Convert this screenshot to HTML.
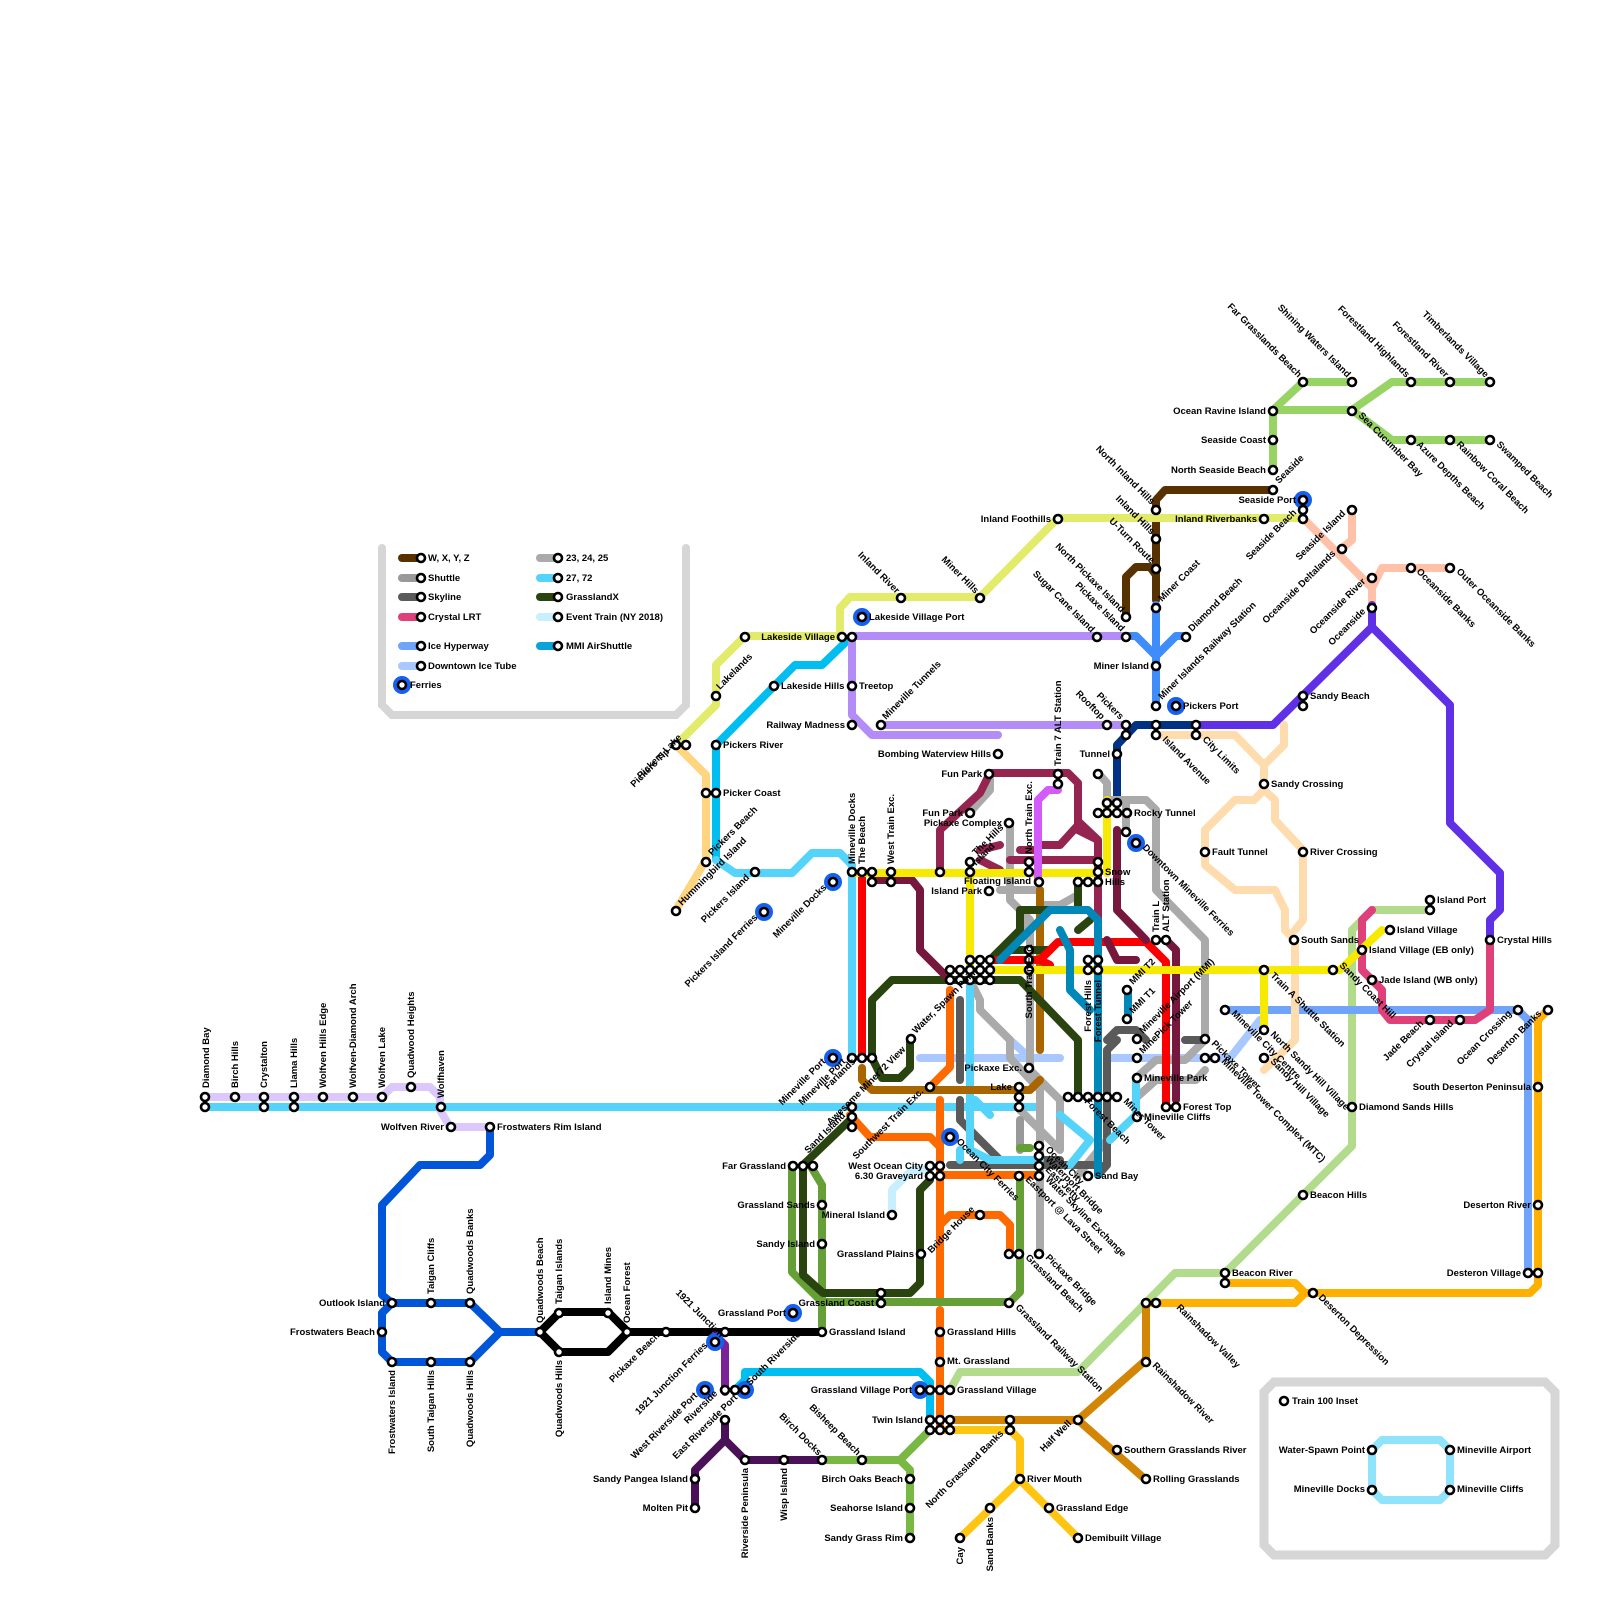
<!DOCTYPE html>
<html><head><meta charset="utf-8"><style>
html,body{margin:0;padding:0;background:#fff;width:100%;height:100%;overflow:hidden}
svg{display:block;overflow:hidden;width:100vw;height:100vh}
text{font-family:"Liberation Sans",sans-serif;font-weight:bold;font-size:9.5px;fill:#000}
.l{fill:none;stroke-linecap:round;stroke-linejoin:round;stroke-width:8}
.s{fill:#fff;stroke:#000;stroke-width:2.6}
.f{fill:#1460f0}
.e{text-anchor:end}
</style></head><body>
<svg viewBox="0 0 1600 1600" preserveAspectRatio="none" xmlns="http://www.w3.org/2000/svg">
<path d="M382,548 V705 L392,715 H676 L686,705 V548" fill="none" stroke="#d6d6d6" stroke-width="8" stroke-linecap="round"/>
<path d="M1274,1382 H1545 L1555,1392 V1545 L1545,1555 H1274 L1264,1545 V1392 Z" fill="none" stroke="#d6d6d6" stroke-width="9"/>
<path class="l" stroke="#8fe3fb" d="M1372,1450 L1382,1440 H1440 L1450,1450 V1490 L1440,1500 H1382 L1372,1490 Z"/>

<path class="l" stroke="#dcc8fc" d="M205,1097 H382 L392,1087 H430 L440,1097 V1110 L450,1127 H490"/>
<path class="l" stroke="#55d4fb" d="M205,1107 H1040"/>
<path class="l" stroke="#0055d8" d="M490,1127 V1155 L480,1165 H420 L382,1205 V1295 L392,1303 H470 L500,1332 H540 M392,1303 L382,1313 V1352 L392,1362 H470 L500,1332"/>
<path class="l" stroke="#000" stroke-width="10" d="M540,1332 L560,1312 H608 L628,1332 H822 M540,1332 L560,1352 H608 L628,1332"/>
<path class="l" stroke="#7a2398" d="M715,1335 L725,1345 V1392"/>
<path class="l" stroke="#4a1058" d="M725,1420 V1440 L695,1470 V1508 M725,1440 L745,1460 H822"/>
<path class="l" stroke="#78b843" d="M822,1460 H900 L910,1470 V1538 M900,1460 L930,1430"/>
<path class="l" stroke="#00bff0" d="M735,1390 L745,1380 V1372 H920 L930,1382 V1420"/>
<path class="l" stroke="#b2dc8c" d="M950,1390 L960,1372 H1078 L1175,1273 H1225 L1352,1146 V930 L1372,910 H1430"/>
<path class="l" stroke="#ffc510" d="M940,1430 H1010 L1020,1440 V1480 L960,1538 M1020,1480 L1078,1538"/>
<path class="l" stroke="#d38505" d="M950,1420 H1078 L1146,1360 V1303 M1078,1420 L1146,1480"/>
<path class="l" stroke="#ffb000" d="M1146,1303 H1295 L1305,1293 L1295,1283 H1225 M1305,1293 H1530 L1538,1285 V1020 L1548,1010"/>
<path class="l" stroke="#6fa4fa" d="M1225,1010 H1518 L1528,1020 V1273"/>
<path class="l" stroke="#a9c8ff" d="M920,1058 H1060 M1010,1040 L1030,1058 M1110,1058 H1230 M1230,1058 L1260,1020"/>
<path class="l" stroke="#98d464" d="M1273,470 V410 L1303,382 H1352 M1273,410 L1290,410 H1352 L1392,382 H1490 M1352,410 L1392,440 H1490"/>
<path class="l" stroke="#583102" d="M1273,490 H1165 L1156,500 V600 M1126,617 V577 L1136,567 H1150 L1156,575"/>
<path class="l" stroke="#e2eb6a" d="M676,745 L716,705 V665 L745,636 H840 V608 L850,597 H980 L1058,518 H1303"/>
<path class="l" stroke="#3f8cfb" d="M1156,605 V706 M1126,636 H1136 L1156,656 L1176,636 H1186"/>
<path class="l" stroke="#00bff0" d="M852,636 L822,665 H795 L716,745 V860"/>
<path class="l" stroke="#55d4fb" d="M716,860 L735,873 H792 L812,853 H840 L852,865 V1058"/>
<path class="l" stroke="#ffd57f" d="M676,745 L706,775 V860 L676,910"/>
<path class="l" stroke="#b38cf8" d="M852,636 H1126 M852,636 V715 L872,735 H998 M881,725 H1126"/>
<path class="l" stroke="#ffc2a8" d="M1303,518 L1372,588 L1382,568 H1450 M1352,510 V540 L1342,548 M1372,578 V605"/>
<path class="l" stroke="#6030e6" d="M1196,725 H1273 L1372,627 L1450,705 V823 L1500,873 V910 L1490,920 V940 M1372,605 V627"/>
<path class="l" stroke="#003182" d="M1117,800 V745 L1136,725 H1196"/>
<path class="l" stroke="#ffdcae" d="M1156,735 H1235 L1264,765 L1284,745 V725 M1264,765 V790 L1254,800 H1235 L1205,830 V865 L1235,890 H1275 L1285,910 V930 L1295,940 V1040 L1264,1070 M1264,790 L1275,800 V820 L1303,850 V920 L1295,930"/>
<path class="l" stroke="#e0407a" d="M1490,940 V1010 L1475,1020 H1390 L1382,1010 V990 L1362,970 V920 L1372,910"/>
<path class="l" stroke="#aaa" d="M990,773 V790 L970,812 M1010,823 V900 L1030,920 V1070 L1060,1100 V1150 M1098,773 L1107,783 V800 H1146 L1156,810 V890 L1205,940 V1040 L1185,1060 H1156 L1136,1078 M990,960 L1030,920 M970,980 L980,1000 V1010 L1010,1040 V1058 L1040,1090 V1250 M1000,890 L1040,890 M1030,960 V990 M1020,1110 L1060,1150 M1078,895 L1060,905 H1040 M1126,800 V830 M1107,1100 V1140 L1078,1175 M1136,1098 L1156,1080 H1196 L1205,1070"/>
<path class="l" stroke="#999" d="M1020,1120 V1150"/>
<path class="l" stroke="#5a5a5a" d="M960,1000 V1080 M960,1100 V1120 L1000,1160 H1060 M950,1165 H1100 M1107,1040 L1117,1030 H1136 L1146,1040 M1098,1175 L1107,1165 V1050 L1117,1040 M1185,1040 H1205"/>
<path class="l" stroke="#55d4fb" d="M970,980 V1150 L990,1160 H1040 M960,1160 V1150 M1060,1115 L1090,1140 L1070,1165 M1136,1078 V1115 L1110,1140 M975,1100 L990,1115"/>
<path class="l" stroke="#c8effd" d="M892,1210 V1190 L912,1170 H925"/>
<path class="l" stroke="#ff6a00" d="M930,1087 L950,1067 V990 M940,1100 V1300 M940,1310 V1430 M850,1115 L870,1137 H930 L940,1147 M940,1175 H1040 M940,1225 L950,1215 H1000 L1010,1225 V1254"/>
<path class="l" stroke="#a86500" d="M862,1068 V1080 L872,1090 H1030 L1040,1080 M1040,890 V1050 M1030,1090 L1010,1090"/>
<path class="l" stroke="#659f35" d="M810,1165 L822,1185 V1332 M792,1165 V1272 L822,1302 H1010 L1020,1292 V1175 M1020,1148 H1030"/>
<path class="l" stroke="#2a4410" d="M803,1165 V1275 L823,1293 H910 L920,1283 V1190 L930,1180 M803,1165 L850,1120 M872,1058 V1000 L892,980 H1020 L1078,1040 V1098 M872,1058 L882,1078 H900 L910,1068 V1040 M990,960 L1020,930 V910 H1078 V880 M1010,950 H1050 M1078,930 L1090,920"/>
<path class="l" stroke="#fb0000" d="M862,873 V1058 M990,960 H1040 L1058,942 H1146 L1166,962 V1107 M1040,960 L1050,965"/>
<path class="l" stroke="#962450" d="M940,873 V830 L980,793 L990,773 H1068 L1078,783 V830 L1098,840 V930 M980,850 L1000,845 M1020,850 H1035 M1010,860 H1098 M1040,845 L1060,845 L1080,823 L1098,840 M980,860 L1000,870"/>
<path class="l" stroke="#76183e" d="M872,880 H912 L920,890 V950 L950,980 M1117,830 V910 L1146,940 M1107,940 L1117,960 L1136,960 M1166,940 L1176,950 V1100"/>
<path class="l" stroke="#f6ea00" d="M852,873 H1098 M970,873 V970 M1107,800 V873 M990,970 H1340 L1382,930 M1264,970 V1030"/>
<path class="l" stroke="#d35bfa" d="M1038,882 V800 L1048,790 H1058"/>
<path class="l" stroke="#0088b8" d="M1000,960 L1050,910 H1088 L1098,920 V1175 M1060,930 L1070,950 V990 L1090,1010 M1128,990 V1020"/>

<g class="f">
<circle cx="402" cy="685" r="9"/><circle cx="862" cy="617" r="9"/><circle cx="1176" cy="706" r="9"/><circle cx="1303" cy="500" r="9"/><circle cx="1136" cy="843" r="9"/><circle cx="833" cy="882" r="9"/><circle cx="764" cy="912" r="9"/><circle cx="833" cy="1058" r="9"/><circle cx="950" cy="1137" r="9"/><circle cx="793" cy="1313" r="9"/><circle cx="715" cy="1342" r="9"/><circle cx="705" cy="1390" r="9"/><circle cx="745" cy="1390" r="9"/><circle cx="920" cy="1390" r="9"/>
</g>
<g class="l" stroke-width="8">
<path stroke="#583102" d="M402,558H421"/><path stroke="#999" d="M402,578H421"/><path stroke="#5a5a5a" d="M402,597H421"/><path stroke="#e0407a" d="M402,617H421"/><path stroke="#6fa4fa" d="M402,646H421"/><path stroke="#a9c8ff" d="M402,666H421"/>
<path stroke="#aaa" d="M540,558H558"/><path stroke="#55d4fb" d="M540,578H558"/><path stroke="#2a4410" d="M540,597H558"/><path stroke="#c8effd" d="M540,617H558"/><path stroke="#0aa3d8" d="M540,646H558"/>
</g>
<g class="s">
<circle cx="421" cy="558" r="4"/><circle cx="421" cy="578" r="4"/><circle cx="421" cy="597" r="4"/><circle cx="421" cy="617" r="4"/><circle cx="421" cy="646" r="4"/><circle cx="421" cy="666" r="4"/><circle cx="402" cy="685" r="4"/>
<circle cx="558" cy="558" r="4"/><circle cx="558" cy="578" r="4"/><circle cx="558" cy="597" r="4"/><circle cx="558" cy="617" r="4"/><circle cx="558" cy="646" r="4"/>
<circle cx="1284" cy="1401" r="4"/>
</g>
<text x="428" y="561">W, X, Y, Z</text><text x="428" y="581">Shuttle</text><text x="428" y="600">Skyline</text><text x="428" y="620">Crystal LRT</text><text x="428" y="649">Ice Hyperway</text><text x="428" y="669">Downtown Ice Tube</text><text x="410" y="688">Ferries</text>
<text x="566" y="561">23, 24, 25</text><text x="566" y="581">27, 72</text><text x="566" y="600">GrasslandX</text><text x="566" y="620">Event Train (NY 2018)</text><text x="566" y="649">MMI AirShuttle</text>
<text x="1292" y="1404">Train 100 Inset</text>

<g class="s">
<circle cx="205" cy="1097" r="4"/><circle cx="205" cy="1107" r="4"/><circle cx="235" cy="1097" r="4"/><circle cx="264" cy="1097" r="4"/><circle cx="264" cy="1107" r="4"/><circle cx="294" cy="1097" r="4"/><circle cx="294" cy="1107" r="4"/><circle cx="323" cy="1097" r="4"/><circle cx="353" cy="1097" r="4"/><circle cx="382" cy="1097" r="4"/><circle cx="411" cy="1087" r="4"/><circle cx="441" cy="1107" r="4"/><circle cx="451" cy="1127" r="4"/><circle cx="490" cy="1127" r="4"/>
<circle cx="392" cy="1303" r="4"/><circle cx="431" cy="1303" r="4"/><circle cx="470" cy="1303" r="4"/><circle cx="382" cy="1332" r="4"/><circle cx="392" cy="1362" r="4"/><circle cx="431" cy="1362" r="4"/><circle cx="470" cy="1362" r="4"/>
<circle cx="540" cy="1332" r="4"/><circle cx="559" cy="1313" r="4"/><circle cx="559" cy="1352" r="4"/><circle cx="608" cy="1313" r="4"/><circle cx="627" cy="1332" r="4"/><circle cx="666" cy="1332" r="4"/><circle cx="715" cy="1342" r="4"/><circle cx="725" cy="1332" r="4"/><circle cx="822" cy="1332" r="4"/>
<circle cx="705" cy="1390" r="4"/><circle cx="725" cy="1390" r="4"/><circle cx="735" cy="1390" r="4"/><circle cx="745" cy="1390" r="4"/><circle cx="725" cy="1420" r="4"/><circle cx="695" cy="1479" r="4"/><circle cx="695" cy="1508" r="4"/><circle cx="745" cy="1460" r="4"/><circle cx="784" cy="1460" r="4"/><circle cx="822" cy="1460" r="4"/><circle cx="862" cy="1460" r="4"/><circle cx="910" cy="1479" r="4"/><circle cx="910" cy="1508" r="4"/><circle cx="910" cy="1538" r="4"/>
<circle cx="920" cy="1390" r="4"/><circle cx="930" cy="1390" r="4"/><circle cx="940" cy="1390" r="4"/><circle cx="950" cy="1390" r="4"/><circle cx="930" cy="1420" r="4"/><circle cx="940" cy="1420" r="4"/><circle cx="950" cy="1420" r="4"/><circle cx="930" cy="1430" r="4"/><circle cx="940" cy="1430" r="4"/><circle cx="950" cy="1430" r="4"/><circle cx="940" cy="1332" r="4"/><circle cx="940" cy="1362" r="4"/>
<circle cx="1010" cy="1420" r="4"/><circle cx="1010" cy="1430" r="4"/><circle cx="1078" cy="1420" r="4"/><circle cx="1020" cy="1479" r="4"/><circle cx="990" cy="1508" r="4"/><circle cx="1049" cy="1508" r="4"/><circle cx="960" cy="1538" r="4"/><circle cx="1078" cy="1538" r="4"/><circle cx="1117" cy="1450" r="4"/><circle cx="1146" cy="1479" r="4"/><circle cx="1146" cy="1362" r="4"/><circle cx="1146" cy="1303" r="4"/><circle cx="1156" cy="1303" r="4"/><circle cx="1225" cy="1273" r="4"/><circle cx="1225" cy="1283" r="4"/><circle cx="1313" cy="1293" r="4"/><circle cx="1303" cy="1195" r="4"/><circle cx="1352" cy="1107" r="4"/>
<circle cx="1528" cy="1273" r="4"/><circle cx="1538" cy="1273" r="4"/><circle cx="1538" cy="1205" r="4"/><circle cx="1538" cy="1087" r="4"/><circle cx="1548" cy="1010" r="4"/><circle cx="1518" cy="1010" r="4"/><circle cx="1225" cy="1010" r="4"/><circle cx="1460" cy="1020" r="4"/><circle cx="1430" cy="1020" r="4"/><circle cx="1372" cy="980" r="4"/><circle cx="1362" cy="950" r="4"/><circle cx="1390" cy="930" r="4"/><circle cx="1430" cy="900" r="4"/><circle cx="1430" cy="910" r="4"/><circle cx="1490" cy="940" r="4"/><circle cx="1333" cy="970" r="4"/><circle cx="1264" cy="970" r="4"/><circle cx="1264" cy="1030" r="4"/><circle cx="1264" cy="1058" r="4"/><circle cx="1294" cy="940" r="4"/><circle cx="1303" cy="852" r="4"/><circle cx="1264" cy="784" r="4"/><circle cx="1205" cy="852" r="4"/>
<circle cx="1273" cy="411" r="4"/><circle cx="1273" cy="440" r="4"/><circle cx="1273" cy="470" r="4"/><circle cx="1273" cy="490" r="4"/><circle cx="1303" cy="382" r="4"/><circle cx="1352" cy="382" r="4"/><circle cx="1352" cy="411" r="4"/><circle cx="1411" cy="382" r="4"/><circle cx="1450" cy="382" r="4"/><circle cx="1490" cy="382" r="4"/><circle cx="1411" cy="440" r="4"/><circle cx="1450" cy="440" r="4"/><circle cx="1490" cy="440" r="4"/>
<circle cx="1303" cy="500" r="4"/><circle cx="1303" cy="510" r="4"/><circle cx="1303" cy="519" r="4"/><circle cx="1264" cy="519" r="4"/><circle cx="1352" cy="510" r="4"/><circle cx="1342" cy="549" r="4"/><circle cx="1372" cy="578" r="4"/><circle cx="1372" cy="608" r="4"/><circle cx="1411" cy="568" r="4"/><circle cx="1450" cy="568" r="4"/><circle cx="1303" cy="696" r="4"/><circle cx="1303" cy="706" r="4"/>
<circle cx="1156" cy="510" r="4"/><circle cx="1156" cy="539" r="4"/><circle cx="1156" cy="569" r="4"/><circle cx="1156" cy="608" r="4"/><circle cx="1126" cy="617" r="4"/><circle cx="1126" cy="637" r="4"/><circle cx="1097" cy="637" r="4"/><circle cx="1186" cy="637" r="4"/><circle cx="1156" cy="666" r="4"/><circle cx="1156" cy="706" r="4"/><circle cx="1176" cy="706" r="4"/><circle cx="1058" cy="519" r="4"/><circle cx="980" cy="598" r="4"/><circle cx="901" cy="598" r="4"/>
<circle cx="1107" cy="725" r="4"/><circle cx="1126" cy="725" r="4"/><circle cx="1126" cy="735" r="4"/><circle cx="1156" cy="725" r="4"/><circle cx="1156" cy="735" r="4"/><circle cx="1196" cy="725" r="4"/><circle cx="1196" cy="735" r="4"/><circle cx="1117" cy="754" r="4"/><circle cx="1098" cy="774" r="4"/><circle cx="1107" cy="803" r="4"/><circle cx="1117" cy="803" r="4"/><circle cx="1098" cy="813" r="4"/><circle cx="1107" cy="813" r="4"/><circle cx="1117" cy="813" r="4"/><circle cx="1127" cy="813" r="4"/><circle cx="1126" cy="832" r="4"/><circle cx="1136" cy="843" r="4"/><circle cx="1156" cy="940" r="4"/><circle cx="1166" cy="940" r="4"/>
<circle cx="862" cy="617" r="4"/><circle cx="745" cy="637" r="4"/><circle cx="842" cy="637" r="4"/><circle cx="852" cy="637" r="4"/><circle cx="716" cy="696" r="4"/><circle cx="676" cy="745" r="4"/><circle cx="686" cy="745" r="4"/><circle cx="774" cy="686" r="4"/><circle cx="852" cy="686" r="4"/><circle cx="852" cy="725" r="4"/><circle cx="881" cy="725" r="4"/><circle cx="716" cy="745" r="4"/><circle cx="706" cy="793" r="4"/><circle cx="716" cy="793" r="4"/><circle cx="706" cy="862" r="4"/><circle cx="676" cy="911" r="4"/><circle cx="755" cy="872" r="4"/><circle cx="764" cy="912" r="4"/><circle cx="833" cy="882" r="4"/><circle cx="998" cy="754" r="4"/>
<circle cx="852" cy="872" r="4"/><circle cx="862" cy="872" r="4"/><circle cx="872" cy="872" r="4"/><circle cx="872" cy="882" r="4"/><circle cx="891" cy="872" r="4"/><circle cx="891" cy="882" r="4"/><circle cx="940" cy="872" r="4"/><circle cx="970" cy="862" r="4"/><circle cx="970" cy="872" r="4"/><circle cx="989" cy="774" r="4"/><circle cx="970" cy="813" r="4"/><circle cx="1009" cy="823" r="4"/><circle cx="989" cy="891" r="4"/><circle cx="1029" cy="862" r="4"/><circle cx="1029" cy="872" r="4"/><circle cx="1039" cy="882" r="4"/><circle cx="1058" cy="774" r="4"/><circle cx="1058" cy="784" r="4"/><circle cx="1078" cy="882" r="4"/><circle cx="1088" cy="882" r="4"/><circle cx="1098" cy="882" r="4"/><circle cx="1098" cy="862" r="4"/><circle cx="1098" cy="872" r="4"/>
<circle cx="950" cy="970" r="4"/><circle cx="960" cy="970" r="4"/><circle cx="970" cy="970" r="4"/><circle cx="980" cy="970" r="4"/><circle cx="990" cy="970" r="4"/><circle cx="950" cy="980" r="4"/><circle cx="960" cy="980" r="4"/><circle cx="970" cy="980" r="4"/><circle cx="980" cy="980" r="4"/><circle cx="990" cy="980" r="4"/><circle cx="970" cy="960" r="4"/><circle cx="980" cy="960" r="4"/><circle cx="990" cy="960" r="4"/><circle cx="1029" cy="950" r="4"/><circle cx="1029" cy="960" r="4"/><circle cx="1029" cy="970" r="4"/><circle cx="1088" cy="960" r="4"/><circle cx="1098" cy="960" r="4"/><circle cx="1088" cy="970" r="4"/><circle cx="1098" cy="970" r="4"/><circle cx="1127" cy="990" r="4"/><circle cx="1127" cy="1019" r="4"/>
<circle cx="833" cy="1058" r="4"/><circle cx="852" cy="1058" r="4"/><circle cx="862" cy="1058" r="4"/><circle cx="872" cy="1058" r="4"/><circle cx="911" cy="1039" r="4"/><circle cx="930" cy="1087" r="4"/><circle cx="1029" cy="1068" r="4"/><circle cx="1019" cy="1087" r="4"/><circle cx="1019" cy="1097" r="4"/><circle cx="1019" cy="1107" r="4"/><circle cx="1068" cy="1097" r="4"/><circle cx="1078" cy="1097" r="4"/><circle cx="1088" cy="1097" r="4"/><circle cx="1098" cy="1097" r="4"/><circle cx="1107" cy="1097" r="4"/><circle cx="1117" cy="1097" r="4"/><circle cx="1137" cy="1039" r="4"/><circle cx="1137" cy="1058" r="4"/><circle cx="1137" cy="1078" r="4"/><circle cx="1137" cy="1117" r="4"/><circle cx="1166" cy="1107" r="4"/><circle cx="1176" cy="1107" r="4"/><circle cx="1205" cy="1039" r="4"/><circle cx="1205" cy="1058" r="4"/><circle cx="1215" cy="1058" r="4"/>
<circle cx="852" cy="1107" r="4"/><circle cx="852" cy="1117" r="4"/><circle cx="852" cy="1127" r="4"/><circle cx="950" cy="1137" r="4"/><circle cx="793" cy="1166" r="4"/><circle cx="803" cy="1166" r="4"/><circle cx="813" cy="1166" r="4"/><circle cx="930" cy="1166" r="4"/><circle cx="940" cy="1166" r="4"/><circle cx="930" cy="1176" r="4"/><circle cx="940" cy="1176" r="4"/><circle cx="1019" cy="1176" r="4"/><circle cx="1039" cy="1146" r="4"/><circle cx="1039" cy="1156" r="4"/><circle cx="1039" cy="1166" r="4"/><circle cx="1039" cy="1176" r="4"/><circle cx="1088" cy="1176" r="4"/><circle cx="822" cy="1205" r="4"/><circle cx="822" cy="1244" r="4"/><circle cx="892" cy="1215" r="4"/><circle cx="980" cy="1215" r="4"/><circle cx="921" cy="1254" r="4"/><circle cx="1009" cy="1254" r="4"/><circle cx="1019" cy="1254" r="4"/><circle cx="1039" cy="1254" r="4"/><circle cx="881" cy="1293" r="4"/><circle cx="881" cy="1303" r="4"/><circle cx="1009" cy="1303" r="4"/><circle cx="793" cy="1313" r="4"/>
<circle cx="1372" cy="1450" r="4"/><circle cx="1372" cy="1490" r="4"/><circle cx="1450" cy="1450" r="4"/><circle cx="1450" cy="1490" r="4"/>
</g>

<g>
<text transform="translate(209,1088) rotate(-90)">Diamond Bay</text>
<text transform="translate(238,1088) rotate(-90)">Birch Hills</text>
<text transform="translate(267,1088) rotate(-90)">Crystalton</text>
<text transform="translate(297,1088) rotate(-90)">Llama Hills</text>
<text transform="translate(326,1088) rotate(-90)">Wolfven Hills Edge</text>
<text transform="translate(356,1088) rotate(-90)">Wolfven-Diamond Arch</text>
<text transform="translate(385,1088) rotate(-90)">Wolfven Lake</text>
<text transform="translate(414,1078) rotate(-90)">Quadwood Heights</text>
<text transform="translate(444,1098) rotate(-90)">Wolfhaven</text>
<text transform="translate(434,1294) rotate(-90)">Taigan Cliffs</text>
<text transform="translate(473,1294) rotate(-90)">Quadwoods Banks</text>
<text transform="translate(543,1323) rotate(-90)">Quadwoods Beach</text>
<text transform="translate(562,1304) rotate(-90)">Taigan Islands</text>
<text transform="translate(611,1304) rotate(-90)">Island Mines</text>
<text transform="translate(630,1323) rotate(-90)">Ocean Forest</text>
<text class="e" transform="translate(395,1370) rotate(-90)">Frostwaters Island</text>
<text class="e" transform="translate(434,1370) rotate(-90)">South Taigan Hills</text>
<text class="e" transform="translate(473,1370) rotate(-90)">Quadwoods Hills</text>
<text class="e" transform="translate(562,1360) rotate(-90)">Quadwoods Hills</text>
<text class="e" transform="translate(748,1468) rotate(-90)">Riverside Peninsula</text>
<text class="e" transform="translate(787,1468) rotate(-90)">Wisp Island</text>
<text class="e" transform="translate(963,1547) rotate(-90)">Cay</text>
<text class="e" transform="translate(993,1517) rotate(-90)">Sand Banks</text>
<text transform="translate(855,864) rotate(-90)">Mineville Docks</text>
<text transform="translate(865,864) rotate(-90)">The Beach</text>
<text transform="translate(894,864) rotate(-90)">West Train Exc.</text>
<text transform="translate(1032,854) rotate(-90)">North Train Exc.</text>
<text transform="translate(1061,766) rotate(-90)">Train 7 ALT Station</text>
<text class="e" transform="translate(1032,944) rotate(-90)">South Train Exc.</text>
<text class="e" transform="translate(1091,980) rotate(-90)">Forest Hills</text>
<text class="e" transform="translate(1101,980) rotate(-90)">Forest Tunnel</text>
<text transform="translate(1159,932) rotate(-90)">Train L</text>
<text transform="translate(1169,932) rotate(-90)">ALT Station</text>
</g>
<g>
<text class="e" x="444" y="1130">Wolfven River</text>
<text x="497" y="1130">Frostwaters Rim Island</text>
<text class="e" x="385" y="1306">Outlook Island</text>
<text class="e" x="375" y="1335">Frostwaters Beach</text>
<text class="e" x="786" y="1316">Grassland Port</text>
<text x="829" y="1335">Grassland Island</text>
<text class="e" x="688" y="1482">Sandy Pangea Island</text>
<text class="e" x="688" y="1511">Molten Pit</text>
<text class="e" x="903" y="1482">Birch Oaks Beach</text>
<text class="e" x="903" y="1511">Seahorse Island</text>
<text class="e" x="903" y="1541">Sandy Grass Rim</text>
<text class="e" x="912" y="1393">Grassland Village Port</text>
<text x="957" y="1393">Grassland Village</text>
<text class="e" x="923" y="1423">Twin Island</text>
<text x="947" y="1335">Grassland Hills</text>
<text x="947" y="1364">Mt. Grassland</text>
<text x="1027" y="1482">River Mouth</text>
<text x="1056" y="1511">Grassland Edge</text>
<text x="1085" y="1541">Demibuilt Village</text>
<text x="1124" y="1453">Southern Grasslands River</text>
<text x="1153" y="1482">Rolling Grasslands</text>
<text x="1232" y="1276">Beacon River</text>
<text x="1310" y="1198">Beacon Hills</text>
<text x="1359" y="1110">Diamond Sands Hills</text>
<text class="e" x="1521" y="1276">Desteron Village</text>
<text class="e" x="1531" y="1208">Deserton River</text>
<text class="e" x="1531" y="1090">South Deserton Peninsula</text>
<text x="1369" y="953">Island Village (EB only)</text>
<text x="1379" y="983">Jade Island (WB only)</text>
<text x="1397" y="933">Island Village</text>
<text x="1437" y="903">Island Port</text>
<text x="1497" y="943">Crystal Hills</text>
<text x="1301" y="943">South Sands</text>
<text x="1310" y="855">River Crossing</text>
<text x="1271" y="787">Sandy Crossing</text>
<text x="1212" y="855">Fault Tunnel</text>
<text x="1310" y="699">Sandy Beach</text>
<text x="1183" y="709">Pickers Port</text>
<text class="e" x="1149" y="669">Miner Island</text>
<text class="e" x="1266" y="414">Ocean Ravine Island</text>
<text class="e" x="1266" y="443">Seaside Coast</text>
<text class="e" x="1266" y="473">North Seaside Beach</text>
<text class="e" x="1296" y="503">Seaside Port</text>
<text class="e" x="1257" y="522">Inland Riverbanks</text>
<text class="e" x="1051" y="522">Inland Foothills</text>
<text class="e" x="835" y="640">Lakeside Village</text>
<text x="869" y="620">Lakeside Village Port</text>
<text x="781" y="689">Lakeside Hills</text>
<text x="859" y="689">Treetop</text>
<text class="e" x="845" y="728">Railway Madness</text>
<text x="723" y="748">Pickers River</text>
<text x="723" y="796">Picker Coast</text>
<text class="e" x="991" y="757">Bombing Waterview Hills</text>
<text class="e" x="982" y="777">Fun Park</text>
<text class="e" x="963" y="816">Fun Park</text>
<text class="e" x="1002" y="826">Pickaxe Complex</text>
<text class="e" x="1031" y="884">Floating Island</text>
<text class="e" x="982" y="894">Island Park</text>
<text class="e" x="1110" y="757">Tunnel</text>
<text x="1134" y="816">Rocky Tunnel</text>
<text x="1105" y="875">Snow</text>
<text x="1105" y="885">Hills</text>
<text class="e" x="1022" y="1071">Pickaxe Exc.</text>
<text class="e" x="1012" y="1090">Lake</text>
<text x="1144" y="1081">Mineville Park</text>
<text x="1144" y="1120">Mineville Cliffs</text>
<text x="1183" y="1110">Forest Top</text>
<text x="1095" y="1179">Sand Bay</text>
<text class="e" x="786" y="1169">Far Grassland</text>
<text class="e" x="815" y="1208">Grassland Sands</text>
<text class="e" x="815" y="1247">Sandy Island</text>
<text class="e" x="885" y="1218">Mineral Island</text>
<text class="e" x="914" y="1257">Grassland Plains</text>
<text class="e" x="874" y="1306">Grassland Coast</text>
<text class="e" x="923" y="1169">West Ocean City</text>
<text class="e" x="923" y="1179">6.30 Graveyard</text>
<text class="e" x="1365" y="1492">Mineville Docks</text>
<text x="1457" y="1453">Mineville Airport</text>
<text x="1457" y="1492">Mineville Cliffs</text>
<text class="e" x="1365" y="1453">Water-Spawn Point</text>
</g>
<g>
<text transform="translate(720,690) rotate(-45)">Lakelands</text>
<text class="e" transform="translate(682,738) rotate(-45)">Pickers Lake</text>
<text class="e" transform="translate(670,752) rotate(-45)">Pickers Tip</text>
<text transform="translate(712,856) rotate(-45)">Pickers Beach</text>
<text transform="translate(682,906) rotate(-45)">Hummingbird Island</text>
<text class="e" transform="translate(750,878) rotate(-45)">Pickers Island</text>
<text class="e" transform="translate(758,918) rotate(-45)">Pickers Island Ferries</text>
<text class="e" transform="translate(827,888) rotate(-45)">Mineville Docks</text>
<text transform="translate(886,720) rotate(-45)">Mineville Tunnels</text>
<text transform="translate(976,856) rotate(-45)">The Hills</text>
<text transform="translate(976,866) rotate(-45)">Island</text>
<text transform="translate(1133,985) rotate(-45)">MMI T2</text>
<text transform="translate(1133,1014) rotate(-45)">MMI T1</text>
<text transform="translate(1143,1034) rotate(-45)">Mineville Airport (MMI)</text>
<text transform="translate(1143,1054) rotate(-45)">MinePick Tower</text>
<text transform="translate(1162,602) rotate(-45)">Miner Coast</text>
<text transform="translate(1192,632) rotate(-45)">Diamond Beach</text>
<text transform="translate(1162,700) rotate(-45)">Miner Islands Railway Station</text>
<text class="e" transform="translate(1297,513) rotate(-45)">Seaside Beach</text>
<text transform="translate(1279,484) rotate(-45)">Seaside</text>
<text class="e" transform="translate(1346,514) rotate(-45)">Seaside Island</text>
<text class="e" transform="translate(1336,554) rotate(-45)">Oceanside Deltalands</text>
<text class="e" transform="translate(1366,582) rotate(-45)">Oceanside River</text>
<text class="e" transform="translate(1366,612) rotate(-45)">Oceanside</text>
<text class="e" transform="translate(1512,1014) rotate(-45)">Ocean Crossing</text>
<text class="e" transform="translate(1542,1014) rotate(-45)">Deserton Banks</text>
<text class="e" transform="translate(1424,1024) rotate(-45)">Jade Beach</text>
<text class="e" transform="translate(1454,1024) rotate(-45)">Crystal Island</text>
<text transform="translate(1339,966) rotate(45)">Sandy Coast Hill</text>
<text transform="translate(916,1034) rotate(-45)">Water, Spawn Point</text>
<text class="e" transform="translate(826,1062) rotate(-45)">Mineville Port</text>
<text class="e" transform="translate(846,1062) rotate(-45)">Mineville Port</text>
<text class="e" transform="translate(856,1062) rotate(-45)">Farlands</text>
<text class="e" transform="translate(906,1050) rotate(-45)">Awesome Miner72 View</text>
<text class="e" transform="translate(846,1116) rotate(-45)">Sand Island</text>
<text class="e" transform="translate(924,1092) rotate(-45)">Southwest Train Exc.</text>
<text class="e" transform="translate(975,1210) rotate(-45)">Bridge House</text>
<text class="e" transform="translate(660,1336) rotate(-45)">Pickaxe Beach</text>
<text class="e" transform="translate(708,1346) rotate(-45)">1921 Junction Ferries</text>
<text class="e" transform="translate(698,1396) rotate(-45)">West Riverside Port</text>
<text class="e" transform="translate(718,1394) rotate(-45)">Riverside</text>
<text class="e" transform="translate(738,1398) rotate(-45)">East Riverside Port</text>
<text transform="translate(750,1386) rotate(-45)">South Riverside</text>
<text class="e" transform="translate(1004,1434) rotate(-45)">North Grassland Banks</text>
<text class="e" transform="translate(1072,1424) rotate(-45)">Half Well</text>
</g>
<g>
<text transform="translate(1176,1308) rotate(45)">Rainshadow Valley</text>
<text transform="translate(1152,1366) rotate(45)">Rainshadow River</text>
<text transform="translate(1318,1298) rotate(45)">Deserton Depression</text>
<text transform="translate(1358,416) rotate(45)">Sea Cucumber Bay</text>
<text transform="translate(1416,445) rotate(45)">Azure Depths Beach</text>
<text transform="translate(1456,445) rotate(45)">Rainbow Coral Beach</text>
<text transform="translate(1496,445) rotate(45)">Swamped Beach</text>
<text transform="translate(1416,572) rotate(45)">Oceanside Banks</text>
<text transform="translate(1456,572) rotate(45)">Outer Oceanside Banks</text>
<text class="e" transform="translate(1298,378) rotate(45)">Far Grasslands Beach</text>
<text class="e" transform="translate(1347,378) rotate(45)">Shining Waters Island</text>
<text class="e" transform="translate(1406,378) rotate(45)">Forestland Highlands</text>
<text class="e" transform="translate(1445,378) rotate(45)">Forestland River</text>
<text class="e" transform="translate(1485,378) rotate(45)">Timberlands Village</text>
<text class="e" transform="translate(1151,505) rotate(45)">North Inland Hills</text>
<text class="e" transform="translate(1151,535) rotate(45)">Inland Hills</text>
<text class="e" transform="translate(1151,564) rotate(45)">U-Turn Route</text>
<text class="e" transform="translate(1121,613) rotate(45)">North Pickaxe Island</text>
<text class="e" transform="translate(1121,632) rotate(45)">Pickaxe Island</text>
<text class="e" transform="translate(1091,633) rotate(45)">Sugar Cane Island</text>
<text class="e" transform="translate(975,594) rotate(45)">Miner Hills</text>
<text class="e" transform="translate(896,594) rotate(45)">Inland River</text>
<text class="e" transform="translate(1101,720) rotate(45)">Rooftop</text>
<text class="e" transform="translate(1120,720) rotate(45)">Pickers</text>
<text transform="translate(1162,740) rotate(45)">Island Avenue</text>
<text transform="translate(1202,740) rotate(45)">City Limits</text>
<text transform="translate(1142,848) rotate(45)">Downtown Mineville Ferries</text>
<text transform="translate(1270,976) rotate(45)">Train A Shuttle Station</text>
<text transform="translate(1270,1035) rotate(45)">North Sandy Hill Village</text>
<text transform="translate(1270,1062) rotate(45)">Sandy Hill Village</text>
<text transform="translate(1231,1014) rotate(45)">Mineville City Centre</text>
<text transform="translate(1211,1044) rotate(45)">Pickaxe Tower</text>
<text transform="translate(1221,1062) rotate(45)">Mineville Tower Complex (MTC)</text>
<text transform="translate(1084,1102) rotate(45)">Forest Beach</text>
<text transform="translate(1123,1102) rotate(45)">Miner Tower</text>
<text transform="translate(956,1142) rotate(45)">Ocean City Ferries</text>
<text transform="translate(1025,1180) rotate(45)">Eastport @ Lava Street</text>
<text transform="translate(1045,1150) rotate(45)">Ocean City</text>
<text transform="translate(1045,1160) rotate(45)">Waterport Bridge</text>
<text transform="translate(1045,1170) rotate(45)">East Jetty</text>
<text transform="translate(1045,1180) rotate(45)">Water Skyline Exchange</text>
<text transform="translate(1045,1258) rotate(45)">Pickaxe Bridge</text>
<text transform="translate(1025,1258) rotate(45)">Grassland Beach</text>
<text transform="translate(1015,1308) rotate(45)">Grassland Railway Station</text>
<text class="e" transform="translate(720,1338) rotate(45)">1921 Junction</text>
<text class="e" transform="translate(818,1456) rotate(45)">Birch Docks</text>
<text class="e" transform="translate(857,1456) rotate(45)">Bisheep Beach</text>
</g>
</svg>
</body></html>
